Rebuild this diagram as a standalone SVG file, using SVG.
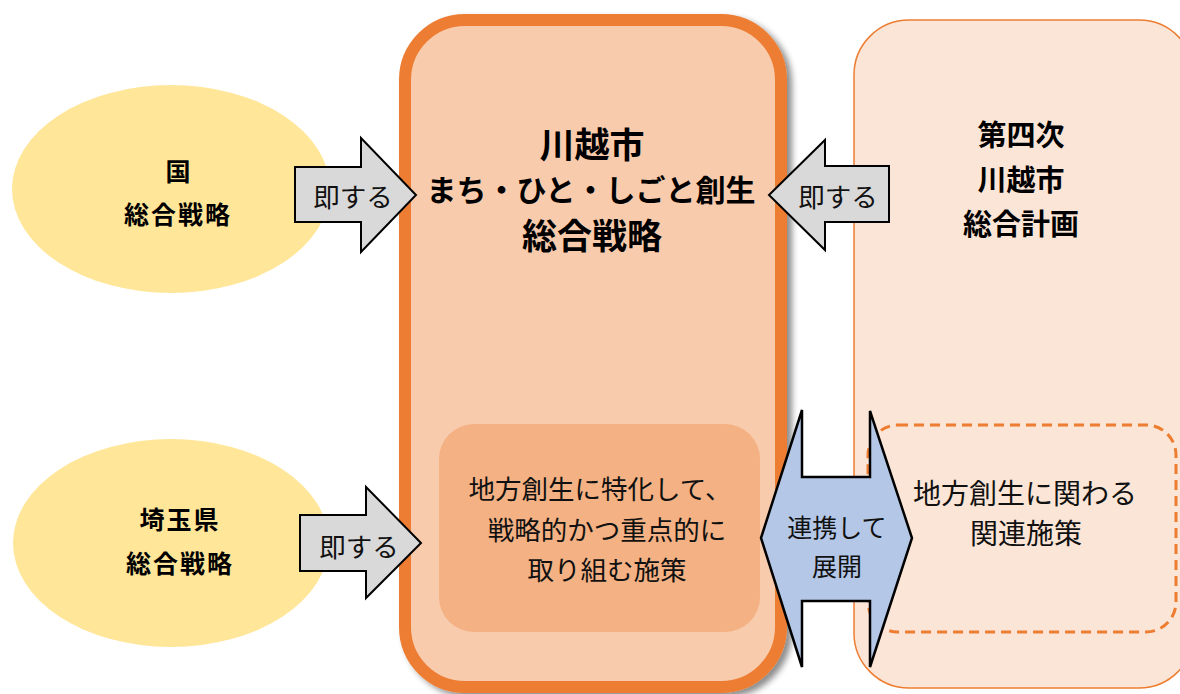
<svg xmlns="http://www.w3.org/2000/svg" width="1180" height="694" viewBox="0 0 1180 694">
<style>
.b{font-family:"Noto Sans CJK JP","Noto Sans CJK SC",sans-serif;font-weight:700;fill:#000;text-anchor:middle;dominant-baseline:central}
.r{font-family:"Noto Sans CJK JP","Noto Sans CJK SC",sans-serif;font-weight:400;fill:#111;text-anchor:middle;dominant-baseline:central}
.ell{fill:#FFE699}
.arr{fill:#D9D9D9;stroke:#000;stroke-width:2;stroke-linejoin:miter}
</style>
<defs>
<filter id="sh" x="-10%" y="-10%" width="130%" height="130%">
<feDropShadow dx="5" dy="4" stdDeviation="3" flood-color="#000" flood-opacity="0.45"/>
</filter>
</defs>
<rect width="1180" height="694" fill="#fff"/>
<g id="plan">
<rect x="854" y="20" width="340" height="668" rx="55" fill="#FBE5D6" stroke="#ED7D31" stroke-width="1.5"/>
<text class="b" x="1021" y="133" font-size="29">第四次</text>
<text class="b" x="1021" y="178" font-size="29">川越市</text>
<text class="b" x="1021" y="222" font-size="29">総合計画</text>
</g>
<g id="related">
<rect x="868" y="425" width="308" height="207" rx="30" fill="none" stroke="#ED7D31" stroke-width="3" stroke-dasharray="10 6"/>
<text class="r" x="1025" y="492" font-size="28">地方創生に関わる</text>
<text class="r" x="1026" y="532" font-size="28">関連施策</text>
</g>
<g id="main">
<rect x="405" y="20" width="376" height="667" rx="60" fill="#F8CBAD" stroke="#ED7D31" stroke-width="12" filter="url(#sh)"/>
<text class="b" x="592" y="142" font-size="35">川越市</text>
<text class="b" x="591" y="188" font-size="30">まち・ひと・しごと創生</text>
<text class="b" x="592" y="233" font-size="35">総合戦略</text>
</g>
<g id="focus">
<rect x="439" y="424" width="321" height="208" rx="35" fill="#F4B183"/>
<text class="r" x="600" y="487" font-size="26.5">地方創生に特化して、</text>
<text class="r" x="607" y="528" font-size="26.5">戦略的かつ重点的に</text>
<text class="r" x="607" y="568" font-size="26.5">取り組む施策</text>
</g>
<g id="national">
<ellipse class="ell" cx="171" cy="189" rx="159" ry="104"/>
<text class="b" x="178" y="170" font-size="25">国</text>
<text class="b" x="178" y="213" font-size="25" letter-spacing="2">総合戦略</text>
</g>
<g id="saitama">
<ellipse class="ell" cx="171" cy="543" rx="158" ry="104"/>
<text class="b" x="180" y="518" font-size="25" letter-spacing="2">埼玉県</text>
<text class="b" x="180" y="562" font-size="25" letter-spacing="2">総合戦略</text>
</g>
<g id="connectors">
<path class="arr" d="M295,167 L361,167 L361,138 L416,195 L361,252 L361,222 L295,222 Z"/>
<text class="r" x="353" y="195" font-size="26.5">即する</text>
<path class="arr" d="M300,515 L366,515 L366,487 L421,543 L366,598 L366,571 L300,571 Z"/>
<text class="r" x="359" y="545" font-size="26.5">即する</text>
<path class="arr" d="M889,166 L825,166 L825,140 L769,195 L825,250 L825,222 L889,222 Z"/>
<text class="r" x="838" y="195" font-size="26.5">即する</text>
<path d="M761,538 L802,410 L802,477 L870,477 L870,411 L912,538 L870,667 L870,601 L802,601 L802,667 Z" fill="#B4C7E7" stroke="#000" stroke-width="2.5"/>
<text class="r" x="837" y="526" font-size="25">連携して</text>
<text class="r" x="837" y="565" font-size="25">展開</text>
</g>
</svg>
